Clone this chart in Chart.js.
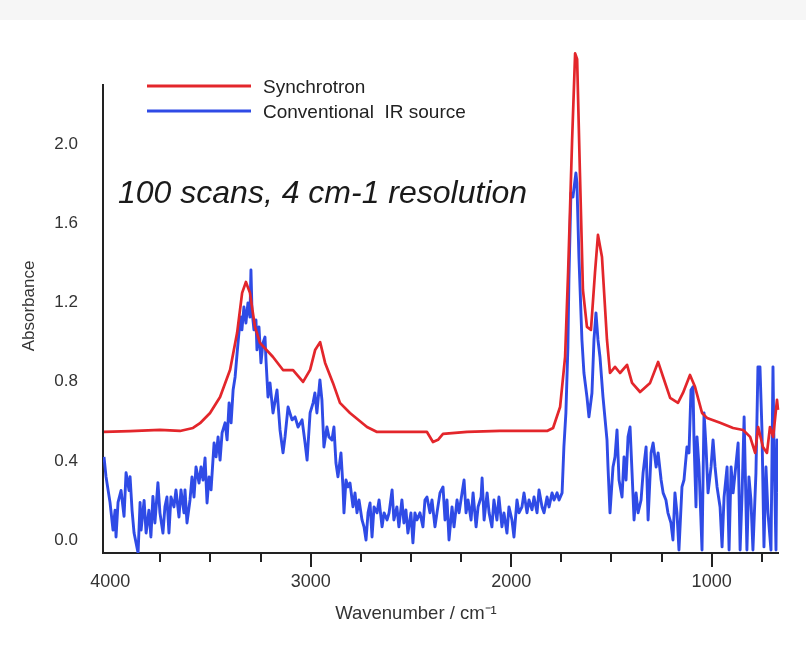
<!DOCTYPE html>
<html>
<head>
<meta charset="utf-8">
<script src="https://cdn.jsdelivr.net/npm/chart.js@4.4.1/dist/chart.umd.min.js"></script>
<style>
  html, body { margin: 0; padding: 0; background: #fff; }
  canvas { display: block; }
</style>
</head>
<body>
<canvas id="spectrum" width="806" height="659"></canvas>
<script>
const seriesNames = ["Synchrotron", "Conventional  IR source"];

// synchrotron spectrum (wavenumber, absorbance)
const synchWavenumber = [
  4031, 3901, 3752, 3652, 3587, 3552, 3502, 3452, 3402, 3367, 3342, 3323, 3303, 3278, 3253,
  3188, 3138, 3088, 3038, 3003, 2978, 2953, 2928, 2889, 2854, 2804, 2719, 2669, 2554, 2420,
  2390, 2365, 2340, 2220, 2056, 1821, 1791, 1756, 1731, 1716, 1696, 1681, 1671, 1657, 1642,
  1622, 1602, 1582, 1567, 1547, 1522, 1507, 1482, 1457, 1422, 1397, 1357, 1307, 1267, 1242,
  1207, 1168, 1143, 1108, 1083, 1048, 1023, 958, 893, 843, 808, 783, 768, 744, 724,
  709, 693, 674, 669
];
const synchAbsorbance = [
  0.546, 0.55, 0.556, 0.551, 0.566, 0.59, 0.642, 0.723, 0.86, 1.047, 1.249, 1.304, 1.249, 1.077, 0.996,
  0.925, 0.859, 0.859, 0.799, 0.86, 0.96, 1.0, 0.895, 0.794, 0.693, 0.642, 0.571, 0.546, 0.546, 0.546,
  0.495, 0.506, 0.536, 0.546, 0.551, 0.551, 0.566, 0.672, 0.925, 1.35, 2.022, 2.46, 2.43, 1.855, 1.264,
  1.077, 1.062, 1.35, 1.542, 1.43, 1.011, 0.844, 0.875, 0.844, 0.885, 0.794, 0.748, 0.794, 0.9, 0.824,
  0.718, 0.693, 0.743, 0.834, 0.774, 0.642, 0.617, 0.592, 0.566, 0.556, 0.521, 0.44, 0.571, 0.47, 0.44,
  0.571, 0.521, 0.708, 0.657
];

// conventional source spectrum (noisy)
const convWavenumber = [
  4031, 4021, 4001, 3986, 3976, 3971, 3961, 3946, 3931, 3921, 3906, 3901, 3891, 3881, 3871, 3861,
  3851, 3846, 3831, 3821, 3807, 3797, 3787, 3777, 3762, 3752, 3737, 3727, 3717, 3707, 3697, 3682,
  3672, 3657, 3647, 3632, 3627, 3617, 3602, 3592, 3582, 3572, 3557, 3547, 3537, 3527, 3517, 3507,
  3497, 3482, 3472, 3462, 3452, 3442, 3427, 3417, 3407, 3397, 3387, 3377, 3367, 3358, 3348, 3343,
  3333, 3323, 3313, 3303, 3298, 3293, 3283, 3273, 3268, 3258, 3248, 3238, 3228, 3223, 3213, 3203,
  3188, 3168, 3153, 3138, 3128, 3113, 3093, 3078, 3063, 3043, 3028, 3018, 3003, 2988, 2979, 2969,
  2954, 2944, 2934, 2919, 2909, 2894, 2884, 2874, 2864, 2849, 2839, 2834, 2824, 2814, 2804, 2789,
  2779, 2769, 2759, 2744, 2734, 2724, 2714, 2704, 2694, 2684, 2669, 2659, 2644, 2634, 2619, 2609,
  2594, 2585, 2570, 2560, 2545, 2535, 2525, 2515, 2500, 2490, 2480, 2470, 2455, 2440, 2430, 2420,
  2405, 2395, 2380, 2370, 2355, 2340,
  2330, 2320, 2310, 2295, 2285, 2270, 2260, 2245, 2235, 2225, 2215, 2200, 2190, 2175, 2165, 2150,
  2145, 2135, 2120, 2110, 2096, 2086, 2071, 2061, 2046, 2036, 2021, 2011, 1996, 1986, 1971, 1961,
  1946, 1936, 1921, 1911, 1896, 1886, 1871, 1861, 1846, 1836, 1821, 1811, 1796, 1786, 1771, 1761,
  1746, 1737, 1727, 1717, 1712,
  1702, 1692, 1677, 1672, 1662, 1647, 1637, 1622, 1612, 1597, 1587, 1577, 1567, 1557, 1542, 1522, 1517,
  1507, 1492, 1482, 1472, 1462, 1447, 1437, 1427, 1417, 1407, 1397, 1387, 1377, 1367, 1352, 1342,
  1327, 1317, 1302, 1292, 1277, 1267, 1252, 1242, 1228, 1218, 1203, 1193, 1183, 1173, 1163, 1148,
  1138, 1123, 1113, 1103, 1093, 1088, 1078, 1073, 1063, 1048, 1038, 1028, 1018, 1003, 993, 983,
  973, 958, 948, 938, 923, 913, 903, 893, 878, 868, 858, 848, 838, 824, 814, 804,
  794, 779, 769, 759, 749, 739, 729, 719, 704, 694, 689, 679, 674, 669
];
const convAbsorbance = [
  0.42, 0.32, 0.19, 0.05, 0.15, 0.015, 0.19, 0.25, 0.12, 0.34, 0.25, 0.32, 0.15, 0.035, -0.015, -0.066,
  0.19, 0.05, 0.2, 0.035, 0.15, 0.015, 0.22, 0.086, 0.29, 0.137, 0.035, 0.167, 0.217, 0.035, 0.217, 0.167,
  0.253, 0.116, 0.253, 0.137, 0.253, 0.086, 0.202, 0.319, 0.217, 0.369, 0.288, 0.369, 0.303, 0.415, 0.187, 0.319,
  0.253, 0.49, 0.42, 0.521, 0.404, 0.541, 0.592, 0.506, 0.693, 0.592, 0.758, 0.824, 0.945, 1.047, 1.127, 1.062,
  1.178, 1.097, 1.198, 1.127, 1.365, 1.163, 1.062, 1.112, 0.961, 1.077, 0.895, 0.996, 1.026, 0.91, 0.723, 0.794,
  0.642, 0.758, 0.556, 0.44, 0.521, 0.672, 0.607, 0.622, 0.571, 0.607, 0.49, 0.404, 0.642, 0.693, 0.743, 0.642,
  0.809, 0.708, 0.47, 0.571, 0.521, 0.506, 0.571, 0.389, 0.319, 0.44, 0.268, 0.137, 0.303, 0.268, 0.288, 0.167,
  0.238, 0.137, 0.202, 0.101, 0.066, 0, 0.137, 0.187, 0.015, 0.167, 0.137, 0.202, 0.066, 0.137, 0.101, 0.137,
  0.253, 0.101, 0.167, 0.066, 0.202, 0.086, 0.152, 0.035, 0.137, -0.015, 0.137, 0.101, 0.137, 0.066, 0.202, 0.217,
  0.137, 0.202, 0.066, 0.137, 0.238, 0.268,
  0.101, 0.202, 0, 0.167, 0.066, 0.202, 0.137, 0.238, 0.303, 0.137, 0.202, 0.101, 0.238, 0.066, 0.167, 0.217,
  0.313, 0.101, 0.238, 0.137, 0.066, 0.202, 0.101, 0.217, 0.066, 0.137, 0.035, 0.167, 0.101, 0.015, 0.202, 0.137,
  0.167, 0.238, 0.137, 0.202, 0.152, 0.217, 0.137, 0.253, 0.167, 0.137, 0.217, 0.167, 0.238, 0.202, 0.238, 0.202,
  0.238, 0.47, 0.642, 0.976, 1.314,
  1.754, 1.734, 1.855, 1.805, 1.431, 1.011, 0.844, 0.723, 0.622, 0.743, 1.011, 1.148, 1.011, 0.925, 0.723, 0.506, 0.369,
  0.137, 0.369, 0.42, 0.556, 0.303, 0.217, 0.42, 0.303, 0.521, 0.571, 0.339, 0.101, 0.238, 0.137, 0.202, 0.339,
  0.47, 0.101, 0.44, 0.49, 0.369, 0.44, 0.303, 0.238, 0.202, 0.137, 0.086, 0, 0.238, 0.137, -0.051, 0.268,
  0.303, 0.47, 0.44, 0.758, 0.774, 0.506, 0.167, 0.521, 0.369, -0.051, 0.642, 0.47, 0.238, 0.369, 0.506, 0.369,
  0.268, 0.167, -0.035, 0.217, 0.369, -0.051, 0.369, 0.238, 0.389, 0.49, -0.051, 0.238, 0.622, -0.051, 0.319, 0.202,
  -0.051, 0.339, 0.875, 0.875, 0.556, -0.035, 0.369, 0.137, -0.051, 0.875, 0.47, -0.051, 0.506, 0.238
];

const yTickValues = [0, 0.4, 0.8, 1.2, 1.6, 2.0];
const xLabelValues = [4000, 3000, 2000, 1000];
const xMajorMarks = [3000, 2000, 1000];
const xMinorMarks = [3750, 3500, 3250, 2750, 2500, 2250, 1750, 1500, 1250, 750];

const font = "'Liberation Sans', Arial, sans-serif";

function points(xs, ys) {
  return xs.map((x, i) => ({ x: x, y: ys[i] }));
}

const decorations = {
  id: "decorations",
  beforeDraw(chart) {
    const ctx = chart.ctx;
    ctx.save();
    ctx.fillStyle = "#fff";
    ctx.fillRect(0, 0, chart.width, chart.height);
    ctx.fillStyle = "#f6f6f6";
    ctx.fillRect(0, 0, chart.width, 20);
    ctx.restore();
  },
  afterDraw(chart) {
    const ctx = chart.ctx;
    const xs = chart.scales.x;
    const bottom = chart.chartArea.bottom;
    ctx.save();

    // tick marks below the x axis
    ctx.strokeStyle = "#222";
    ctx.lineWidth = 2;
    xMajorMarks.forEach((v) => {
      const px = Math.round(xs.getPixelForValue(v));
      ctx.beginPath();
      ctx.moveTo(px, bottom);
      ctx.lineTo(px, bottom + 14);
      ctx.stroke();
    });
    xMinorMarks.forEach((v) => {
      const px = Math.round(xs.getPixelForValue(v));
      ctx.beginPath();
      ctx.moveTo(px, bottom);
      ctx.lineTo(px, bottom + 9);
      ctx.stroke();
    });

    // axis titles
    ctx.fillStyle = "#333";
    ctx.textBaseline = "middle";
    ctx.textAlign = "center";
    ctx.font = "18.5px " + font;
    ctx.fillText("Wavenumber / cm⁻¹", 416, 614);
    ctx.font = "17px " + font;
    ctx.save();
    ctx.translate(29, 306);
    ctx.rotate(-Math.PI / 2);
    ctx.fillText("Absorbance", 0, 0);
    ctx.restore();

    // legend
    const colors = [chart.data.datasets[0].borderColor, chart.data.datasets[1].borderColor];
    const rows = [87, 112];
    ctx.lineWidth = 3;
    ctx.textAlign = "left";
    ctx.font = "19px " + font;
    seriesNames.forEach((name, i) => {
      ctx.strokeStyle = colors[i];
      ctx.beginPath();
      ctx.moveTo(147, rows[i] - 1);
      ctx.lineTo(251, rows[i] - 1);
      ctx.stroke();
      ctx.fillStyle = "#222";
      ctx.fillText(name, 263, rows[i] + 1);
    });

    // annotation
    ctx.font = "italic 32px " + font;
    ctx.fillStyle = "#1a1a1a";
    ctx.fillText("100 scans, 4 cm-1 resolution", 118, 194);

    ctx.restore();
  },
};

new Chart(document.getElementById("spectrum"), {
  type: "line",
  data: {
    datasets: [
      {
        label: seriesNames[0],
        data: points(synchWavenumber, synchAbsorbance),
        borderColor: "#e3262b",
        borderWidth: 2.7,
        borderJoinStyle: "round",
        pointRadius: 0,
        tension: 0,
        clip: false,
      },
      {
        label: seriesNames[1],
        data: points(convWavenumber, convAbsorbance),
        borderColor: "#2f4be6",
        borderWidth: 2.9,
        borderJoinStyle: "round",
        pointRadius: 0,
        tension: 0,
      },
    ],
  },
  options: {
    responsive: false,
    animation: false,
    events: [],
    layout: { padding: { left: 0, top: 85, right: 28, bottom: 0 } },
    plugins: {
      legend: { display: false },
      tooltip: { enabled: false },
    },
    scales: {
      x: {
        type: "linear",
        reverse: true,
        min: 669,
        max: 4036,
        afterFit: (s) => { s.height = 106; },
        afterBuildTicks: (s) => { s.ticks = xLabelValues.map((v) => ({ value: v })); },
        grid: { display: false, drawTicks: false },
        border: { display: true, color: "#222", width: 2 },
        ticks: {
          padding: 18,
          color: "#333",
          maxRotation: 0,
          font: { family: font, size: 18 },
          callback: (v) => String(v),
        },
      },
      y: {
        type: "linear",
        min: -0.066,
        max: 2.3,
        afterFit: (s) => { s.width = 103; },
        afterBuildTicks: (s) => { s.ticks = yTickValues.map((v) => ({ value: v })); },
        grid: { display: false, drawTicks: false },
        border: { display: true, color: "#222", width: 2 },
        ticks: {
          padding: 25,
          color: "#333",
          font: { family: font, size: 17 },
          callback: (v) => v.toFixed(1),
        },
      },
    },
  },
  plugins: [decorations],
});
</script>
</body>
</html>
